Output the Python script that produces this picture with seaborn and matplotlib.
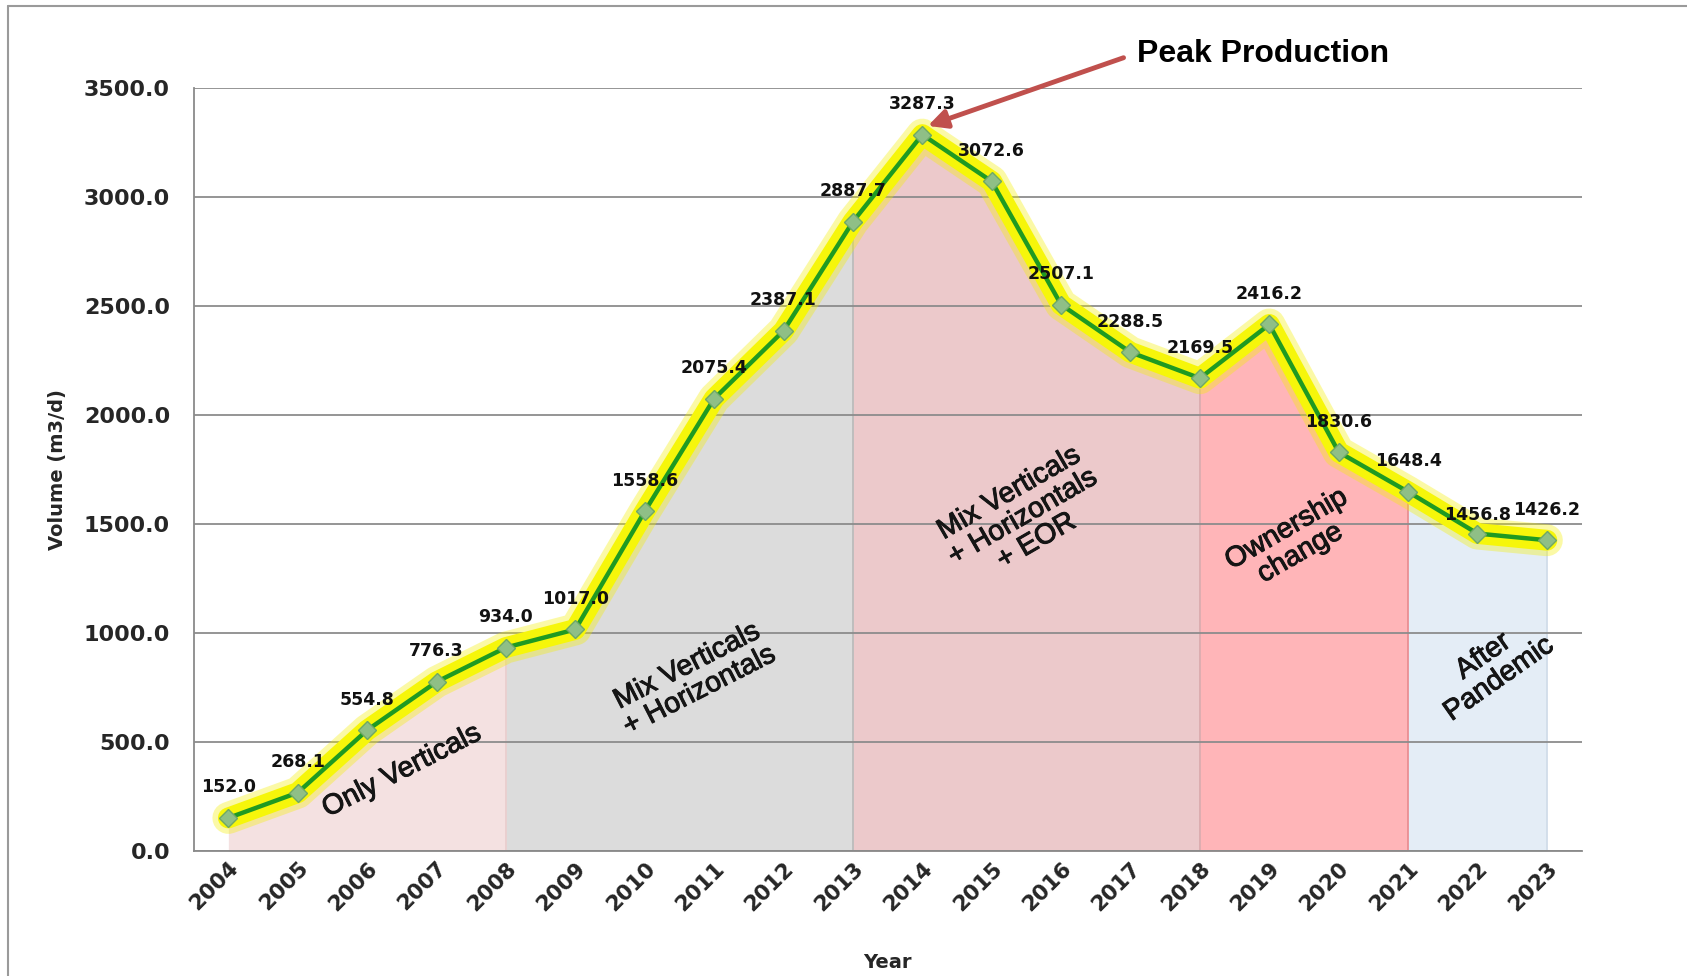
import numpy as np
import pandas as pd
import seaborn as sns
import matplotlib.pyplot as plt
import matplotlib.patheffects as pe
from matplotlib.lines import Line2D

sns.set_style("white")
plt.rcParams["font.family"] = ["DejaVu Sans"]

# data
years = [2004, 2005, 2006, 2007, 2008, 2009, 2010, 2011, 2012, 2013,
         2014, 2015, 2016, 2017, 2018, 2019, 2020, 2021, 2022, 2023]
volume = [152.0, 268.1, 554.8, 776.3, 934.0, 1017.0, 1558.6, 2075.4, 2387.1, 2887.7,
          3287.3, 3072.6, 2507.1, 2288.5, 2169.5, 2416.2, 1830.6, 1648.4, 1456.8, 1426.2]

# phases: (first year, last year, label, colour)
phase_start = [2004, 2008, 2013, 2018, 2021]
phase_end = [2008, 2013, 2018, 2021, 2023]
phase_labels = ["Only Verticals",
                "Mix Verticals\n+ Horizontals",
                "Mix Verticals\n+ Horizontals\n+ EOR",
                "Ownership\nchange",
                "After\nPandemic"]
phase_colors = ["#f4e1e1", "#dcdcdc", "#ecc9cb", "#ffb5b8", "#e4edf6"]
phase_edges = ["#e8cccc", "#b8b8b8", "#d9a8ab", "#e88a8f", "#cfdbe8"]

df = pd.DataFrame({"year": years, "volume": volume})
df["pos"] = np.arange(len(years))

fig = plt.figure(figsize=(16.87, 9.76), dpi=100)
ax = fig.add_axes([0.1148, 0.128, 0.8227, 0.7816])

# shaded phases under the curve
for start, end, color, edge in zip(phase_start, phase_end, phase_colors, phase_edges):
    seg = df[(df["year"] >= start) & (df["year"] <= end)]
    ax.fill_between(seg["pos"], 0, seg["volume"], color=color, lw=0, zorder=0.2)
    ax.vlines(seg["pos"].iloc[-1], 0, seg["volume"].iloc[-1], color=edge, lw=1.2, zorder=0.3)

# yellow glow behind the line
sns.lineplot(data=df, x="pos", y="volume", ax=ax, color="#f5f000", lw=23, alpha=0.35,
             zorder=2, legend=False)
sns.lineplot(data=df, x="pos", y="volume", ax=ax, color="#f6f60a", lw=15,
             zorder=2.1, legend=False)
sns.lineplot(data=df, x="pos", y="volume", ax=ax, color="#1f9a22", lw=3.2,
             marker="D", markersize=9, markerfacecolor="#8fbf86",
             markeredgecolor="#6fa866", markeredgewidth=1, zorder=3, legend=False)

# data labels
label_dy = [22] * len(volume)
label_dy[18] = 13
for p, v, dy in zip(df["pos"], volume, label_dy):
    ax.annotate(f"{v:.1f}", (p, v), xytext=(0, dy), textcoords="offset points",
                ha="center", va="center", fontsize=12.5, fontweight="bold",
                color="#111111", zorder=5)

# phase annotations
phase_text_pos = [(2.5, 365), (6.7, 790), (11.45, 1530), (15.35, 1420), (18.2, 840)]
phase_rot = [27, 27, 30, 30, 35]
for (x, y), txt, rot in zip(phase_text_pos, phase_labels, phase_rot):
    ax.text(x, y, txt, rotation=rot, ha="center", va="center", fontsize=20.5,
            family=["Liberation Sans", "DejaVu Sans"], color="#151515",
            linespacing=1.08, rotation_mode="anchor", zorder=4,
            path_effects=[pe.withStroke(linewidth=0.7, foreground="#151515")])

# axes
ax.set_xlim(-0.5, len(years) - 0.5)
ax.set_ylim(0, 3500)
ax.set_yticks(np.arange(0, 3501, 500))
ax.set_yticklabels([f"{t:.1f}" for t in np.arange(0, 3501, 500)], fontsize=16, fontweight="bold")
ax.set_xticks(df["pos"])
ax.set_xticklabels([str(y) for y in years], rotation=45, ha="right", rotation_mode="anchor",
                   fontsize=15.5, fontweight="bold")
ax.set_xticks(np.arange(-0.5, len(years)), minor=True)
ax.tick_params(axis="x", which="major", length=0, pad=5)
ax.tick_params(axis="x", which="minor", length=9, color="#8a8a8a", width=1.2)
ax.tick_params(axis="y", length=9, color="#8a8a8a", width=1.2, pad=8)
ax.set_axisbelow(True)
ax.yaxis.grid(True, color="#8c8c8c", lw=1.3, zorder=0.5)
for s in ["top", "right"]:
    ax.spines[s].set_visible(False)
for s in ["left", "bottom"]:
    ax.spines[s].set_color("#8a8a8a")
    ax.spines[s].set_linewidth(1.3)

ax.set_xlabel("Year", fontsize=14, fontweight="bold", labelpad=28)
ax.set_ylabel("Volume (m3/d)", fontsize=14, fontweight="bold", labelpad=12)

# peak annotation
peak_i = int(np.argmax(volume))
ax.annotate("", xy=(peak_i + 0.08, volume[peak_i] + 40),
            xytext=(peak_i + 2.9, 3500 + 140),
            arrowprops=dict(arrowstyle="-|>", color="#c0504d", lw=3.5,
                            mutation_scale=28, shrinkA=0, shrinkB=0),
            annotation_clip=False, zorder=6)
fig.text(0.674, 0.945, "Peak Production", fontsize=23, fontweight="bold",
         family=["Liberation Sans Narrow", "Liberation Sans", "DejaVu Sans"],
         ha="left", va="center", color="black")

# outer frame
fig.add_artist(Line2D([0.005, 0.005], [0.0, 0.994], color="#9a9a9a", lw=1.5,
                      transform=fig.transFigure))
fig.add_artist(Line2D([0.005, 1.0], [0.994, 0.994], color="#9a9a9a", lw=1.5,
                      transform=fig.transFigure))

fig.savefig("out.png", dpi=100)
plt.close(fig)
